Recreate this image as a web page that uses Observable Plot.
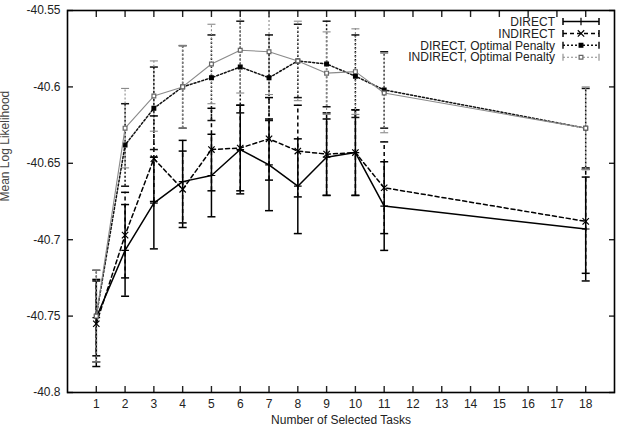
<!DOCTYPE html>
<html><head><meta charset="utf-8">
<script src="https://cdn.jsdelivr.net/npm/d3@7"></script>
<script src="https://cdn.jsdelivr.net/npm/@observablehq/plot@0.6"></script>
<style>body{margin:0;background:#fff} svg{display:block}</style>
</head><body><div id="chart"></div>
<script>
// ---- data ----
const tasks = [1, 2, 3, 4, 5, 6, 7, 8, 9, 10, 11, 18];
const seriesNames = ["DIRECT", "INDIRECT", "DIRECT, Optimal Penalty", "INDIRECT, Optimal Penalty"];
const direct      = [-40.751, -40.707, -40.676, -40.662, -40.658, -40.641, -40.651, -40.665, -40.646, -40.643, -40.678, -40.693];
const directErr   = [0.025, 0.030, 0.030, 0.027, 0.027, 0.029, 0.030, 0.031, 0.025, 0.028, 0.029, 0.034];
const indirect    = [-40.755, -40.697, -40.647, -40.667, -40.641, -40.640, -40.634, -40.642, -40.644, -40.643, -40.666, -40.688];
const indirectErr = [0.028, 0.028, 0.028, 0.025, 0.027, 0.028, 0.027, 0.030, 0.027, 0.028, 0.030, 0.034];
const directOpt   = [-40.750, -40.638, -40.614, -40.600, -40.594, -40.587, -40.594, -40.583, -40.585, -40.593, -40.602, -40.627];
const directOptErr= [0.030, 0.027, 0.027, 0.027, 0.028, 0.030, 0.028, 0.024, 0.028, 0.027, 0.025, 0.026];
const indirectOpt = [-40.750, -40.627, -40.606, -40.600, -40.585, -40.576, -40.577, -40.583, -40.591, -40.590, -40.604, -40.627];
const indirectOptErr = [0.030, 0.026, 0.023, 0.027, 0.026, 0.028, 0.028, 0.026, 0.027, 0.028, 0.026, 0.027];
const xTicks = [1, 2, 3, 4, 5, 6, 7, 8, 9, 10, 11, 12, 13, 14, 15, 16, 17, 18];
const yTicks = [-40.8, -40.75, -40.7, -40.65, -40.6, -40.55];
const xLabel = "Number of Selected Tasks";
const yLabel = "Mean Log Likelihood";

// ---- styles ----
const styles = [
  {stroke: "#000", width: 1.5, dash: null, errDash: null, symbol: "plus", r: 2.6, fill: "none", mstroke: "#000"},
  {stroke: "#000", width: 1.5, dash: "4,3", errDash: "4,3", symbol: "times", r: 3, fill: "none", mstroke: "#000"},
  {stroke: "#111", width: 1.5, dash: "2,2", errDash: "2,2", symbol: "square", r: 2.1, fill: "#000", mstroke: "#000"},
  {stroke: "#8a8a8a", width: 1.1, dash: null, errDash: "2,2", symbol: "square2", r: 2.4, fill: "#fff", mstroke: "#666"}
];
const values = [direct, indirect, directOpt, indirectOpt];
const errors = [directErr, indirectErr, directOptErr, indirectOptErr];
const rows = seriesNames.map((s, k) => tasks.map((t, i) => ({series: s, x: t, y: values[k][i], e: errors[k][i]})));

const cap = {draw(ctx) { ctx.moveTo(-4, 0); ctx.lineTo(4, 0); }};

const marks = [];
rows.forEach((data, k) => {
  const st = styles[k];
  marks.push(Plot.ruleX(data, {x: "x", y1: d => d.y - d.e, y2: d => d.y + d.e, stroke: st.stroke, strokeWidth: st.width, strokeDasharray: st.errDash, clip: true}));
  marks.push(Plot.dot(data, {x: "x", y: d => d.y - d.e, symbol: cap, stroke: st.stroke, strokeWidth: st.width, fill: "none", clip: true}));
  marks.push(Plot.dot(data, {x: "x", y: d => d.y + d.e, symbol: cap, stroke: st.stroke, strokeWidth: st.width, fill: "none", clip: true}));
});
rows.forEach((data, k) => {
  const st = styles[k];
  marks.push(Plot.line(data, {x: "x", y: "y", stroke: st.stroke, strokeWidth: st.width, strokeDasharray: st.dash, clip: true}));
  marks.push(Plot.dot(data, {x: "x", y: "y", symbol: st.symbol, r: st.r, stroke: st.mstroke, strokeWidth: 1.2, fill: st.fill}));
});

const fmt = d => String(d);
const plot = Plot.plot({
  width: 619, height: 428,
  marginLeft: 67, marginRight: 5, marginTop: 10, marginBottom: 36,
  style: {fontFamily: "'Liberation Sans', Arial, sans-serif", fontSize: "12px", color: "#222", background: "#fff"},
  x: {domain: [0, 19]},
  y: {domain: [-40.8, -40.55]},
  marks: [
    ...marks,
    Plot.axisX(xTicks, {anchor: "bottom", tickSize: 0, tickPadding: 7, tickFormat: fmt, label: null}),
    Plot.axisX(xTicks, {anchor: "bottom", tickSize: 6, dy: -6, text: null, label: null, strokeWidth: 1.4}),
    Plot.axisX(xTicks, {anchor: "top", tickSize: 6, dy: 6, text: null, label: null, strokeWidth: 1.4}),
    Plot.axisY(yTicks, {anchor: "left", tickSize: 0, tickPadding: 7, tickFormat: fmt, label: null}),
    Plot.axisY(yTicks, {anchor: "left", tickSize: 6, dx: 6, text: null, label: null, strokeWidth: 1.4}),
    Plot.axisY(yTicks, {anchor: "right", tickSize: 6, dx: -6, text: null, label: null, strokeWidth: 1.4}),
    Plot.frame({stroke: "#000", strokeWidth: 1.6}),
    Plot.text([xLabel], {text: d => d, frameAnchor: "bottom", dy: 31, fill: "#222"}),
    Plot.text([yLabel], {text: d => d, frameAnchor: "left", dx: -62, rotate: -90, fill: "#444"})
  ]
});
document.getElementById("chart").append(plot);

// ---- legend ----
const svg = d3.select(plot);
const lg = svg.append("g").attr("font-family", "'Liberation Sans', Arial, sans-serif").attr("font-size", 12).attr("fill", "#222");
const rowY = [21.5, 33.4, 45.3, 57.2];
seriesNames.forEach((name, k) => {
  const st = styles[k];
  const y = rowY[k];
  lg.append("text").attr("x", 555).attr("y", y).attr("dy", "0.35em").attr("text-anchor", "end").text(name);
  lg.append("line").attr("x1", 563).attr("x2", 599).attr("y1", y).attr("y2", y)
    .attr("stroke", st.stroke).attr("stroke-width", st.width).attr("stroke-dasharray", st.errDash);
  [563, 599].forEach(x => lg.append("line").attr("x1", x).attr("x2", x).attr("y1", y - 3.5).attr("y2", y + 3.5)
    .attr("stroke", st.stroke).attr("stroke-width", st.width));
  const symMap = {plus: d3.symbolPlus, times: d3.symbolTimes, square: d3.symbolSquare, square2: d3.symbolSquare2};
  lg.append("path").attr("transform", `translate(581,${y})`)
    .attr("d", d3.symbol(symMap[st.symbol], Math.PI * st.r * st.r)())
    .attr("fill", st.fill).attr("stroke", st.mstroke).attr("stroke-width", 1.2);
});
</script>
</body></html>
